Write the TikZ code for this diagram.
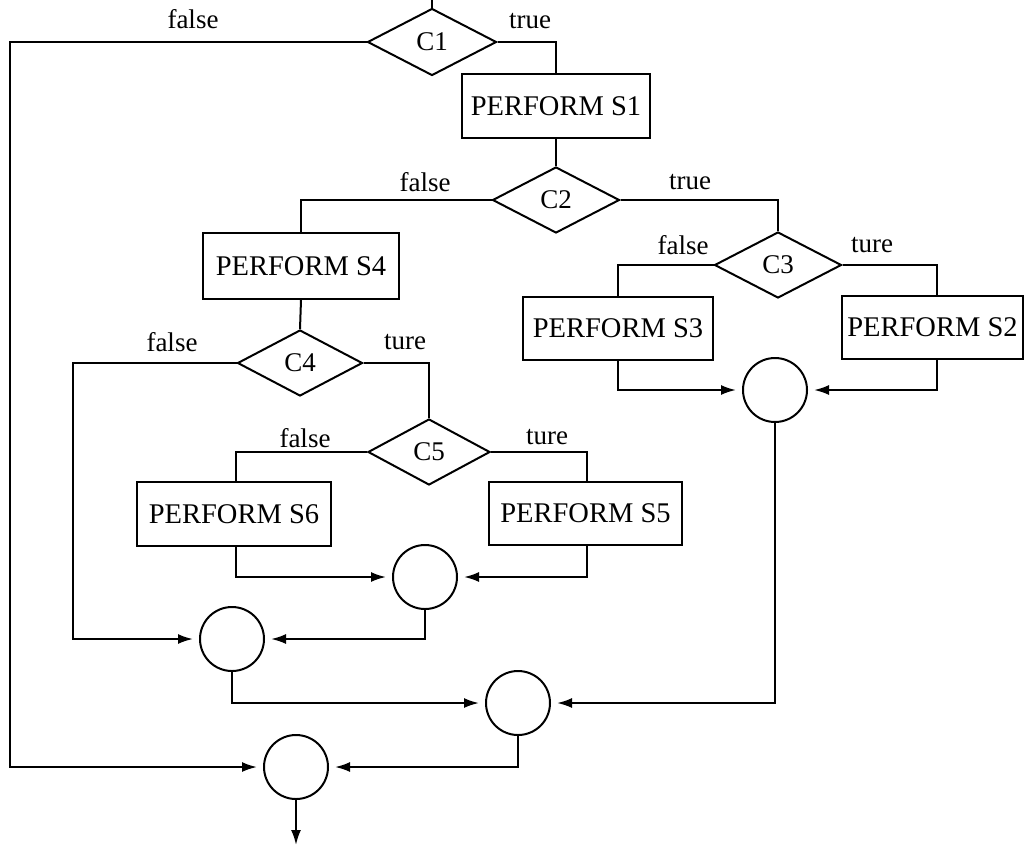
\documentclass[tikz,border=0pt]{standalone}
\usepackage{fontspec}
\setmainfont{Liberation Serif}
\usetikzlibrary{shapes.geometric,arrows.meta}
\begin{document}
\begin{tikzpicture}[x=1pt,y=-1pt,
  every node/.style={font=\fontsize{27}{30}\selectfont},
  line/.style={line width=2pt},
  arr/.style={line width=2pt,-{Latex[length=15pt,width=10pt]},shorten >=6pt},
  cond/.style={draw,line width=2pt,shape=diamond,inner sep=0pt,minimum width=127pt,minimum height=66pt},
  proc/.style={draw,line width=2pt,inner sep=0pt,minimum width=194pt,minimum height=64pt,font=\fontsize{28.5}{30}\selectfont},
  junc/.style={draw,line width=2pt,circle,inner sep=0pt,minimum size=64pt},
  lab/.style={inner sep=0pt}]
\useasboundingbox (0,0) rectangle (1024,847);
% conditions
\node[cond,minimum width=129pt,minimum height=67pt] (C1) at (432,42) {C1};
\node[cond] (C2) at (556,200) {C2};
\node[cond] (C3) at (778,265) {C3};
\node[cond,minimum width=125pt] (C4) at (300,363) {C4};
\node[cond,minimum width=122pt] (C5) at (429,452) {C5};
% processes
\node[proc,minimum width=188pt,minimum height=64pt] (S1) at (556,106) {PERFORM S1};
\node[proc,minimum width=196pt,minimum height=66pt] (S4) at (301,266) {PERFORM S4};
\node[proc,minimum width=190pt,minimum height=63pt] (S3) at (618,328) {PERFORM S3};
\node[proc,minimum width=181pt,minimum height=63pt] (S2) at (932.5,327) {PERFORM S2};
\node[proc] (S6) at (234,514) {PERFORM S6};
\node[proc,minimum width=193pt,minimum height=63pt] (S5) at (585.5,513) {PERFORM S5};
% junctions
\node[junc] (Ja) at (775,390) {};
\node[junc] (Jb) at (425,577) {};
\node[junc] (Jc) at (232,639) {};
\node[junc] (Jd) at (518,703) {};
\node[junc] (Je) at (296,767) {};
% free ends
\coordinate (top) at (432,0);
\coordinate (bot) at (296,845);
\coordinate (s2in) at (937,296);
\coordinate (s2out) at (937,358);
\coordinate (s5out) at (587,544);
\coordinate (s6out) at (236,546);
\coordinate (s6in) at (236,482);
% connectors
\draw[line] (top) -- (C1.north);
\draw[arr] (C1.west) -- (10,42) |- (Je.west);
\draw[line] (C1.east) -| (S1.north);
\draw[line] (S1.south) -- (C2.north);
\draw[line] (C2.west) -| (S4.north);
\draw[line] (C2.east) -| (C3.north);
\draw[line] (S4.south) -- (C4.north);
\draw[line] (C3.west) -| (S3.north);
\draw[line] (C3.east) -| (s2in);
\draw[arr] (S3.south) |- (Ja.west);
\draw[arr] (s2out) |- (Ja.east);
\draw[arr] (C4.west) -- (73,363) |- (Jc.west);
\draw[line] (C4.east) -| (C5.north);
\draw[line] (C5.west) -| (s6in);
\draw[line] (C5.east) -| (S5.north -| s5out);
\draw[arr] (s6out) |- (Jb.west);
\draw[arr] (s5out) |- (Jb.east);
\draw[arr] (Jb.south) |- (Jc.east);
\draw[arr] (Jc.south) |- (Jd.west);
\draw[arr] (Ja.south) |- (Jd.east);
\draw[arr] (Jd.south) |- (Je.east);
\draw[arr,shorten >=0pt] (Je.south) -- (bot);
% labels
\node[lab] (l1) at (193,19) {false};
\node[lab] (l2) at (530,21) {true};
\node[lab] (l3) at (425,182) {false};
\node[lab] (l4) at (690,182) {true};
\node[lab] (l5) at (683,245) {false};
\node[lab] (l6) at (872,245) {ture};
\node[lab] (l7) at (172,342) {false};
\node[lab] (l8) at (405,342) {ture};
\node[lab] (l9) at (305,438) {false};
\node[lab] (l10) at (547,437) {ture};
\end{tikzpicture}
\end{document}
